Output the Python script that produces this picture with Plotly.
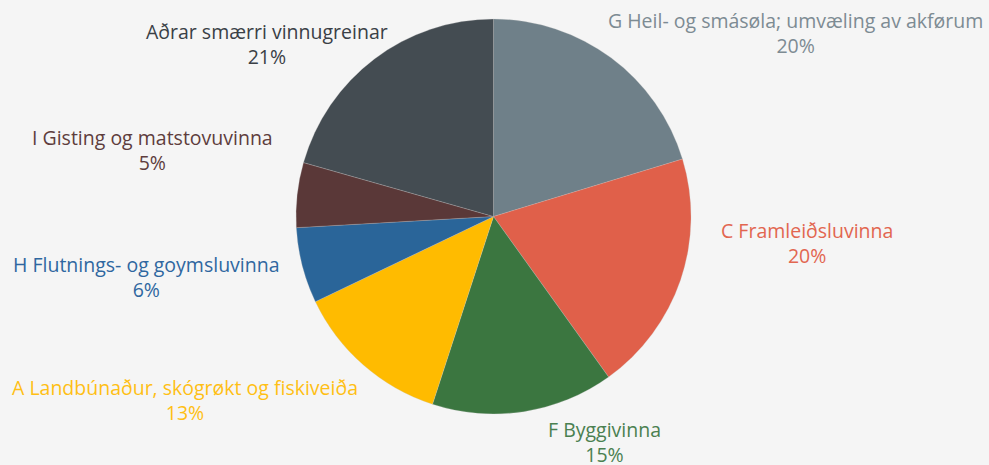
import plotly.graph_objects as go

categories = [
    "G Heil- og smásøla; umvæling av akførum",
    "C Framleiðsluvinna",
    "F Byggivinna",
    "A Landbúnaður, skógrøkt og fiskiveiða",
    "H Flutnings- og goymsluvinna",
    "I Gisting og matstovuvinna",
    "Aðrar smærri vinnugreinar",
]
values = [20.3, 19.8, 14.9, 12.9, 6.2, 5.3, 20.6]
colors = ["#6f8089", "#e0604a", "#3b7640", "#ffbb00", "#2a6599", "#5a3838", "#444c52"]
text_colors = ["#7d8b93", "#e26650", "#4a8050", "#ffbf14", "#2f67a0", "#5e3d3d", "#3a4046"]

# label centre positions (paper coordinates), layout only
label_x = [0.804, 0.816, 0.611, 0.187, 0.148, 0.154, 0.270]
label_y = [0.929, 0.477, 0.049, 0.140, 0.404, 0.677, 0.905]

FONT = "Open Sans"

fig = go.Figure(go.Pie(
    labels=categories,
    values=values,
    sort=False,
    direction="clockwise",
    rotation=0,
    marker=dict(colors=colors, line=dict(color="rgba(200,200,200,0.5)", width=0.5)),
    textinfo="none",
    hoverinfo="label+percent",
    showlegend=False,
    domain=dict(x=[0.2993, 0.6987], y=[0.1075, 0.9613]),
))

total = sum(values)
for cat, v, c, lx, ly in zip(categories, values, text_colors, label_x, label_y):
    pct = round(v / total * 100)
    fig.add_annotation(
        x=lx, y=ly, xref="paper", yref="paper",
        text=f"{cat}<br>{pct}%",
        showarrow=False, align="center",
        xanchor="center", yanchor="middle",
        font=dict(family=FONT, size=19.5, color=c),
    )

fig.update_layout(
    width=989, height=465,
    margin=dict(l=0, r=0, t=0, b=0),
    paper_bgcolor="#f5f5f5",
    plot_bgcolor="#f5f5f5",
    font=dict(family=FONT),
)

fig.write_html(
    "out.html",
    config={"displayModeBar": False},
    post_script="document.body.style.margin='0';document.body.style.padding='0';"
                "document.body.style.background='#f5f5f5';",
)
